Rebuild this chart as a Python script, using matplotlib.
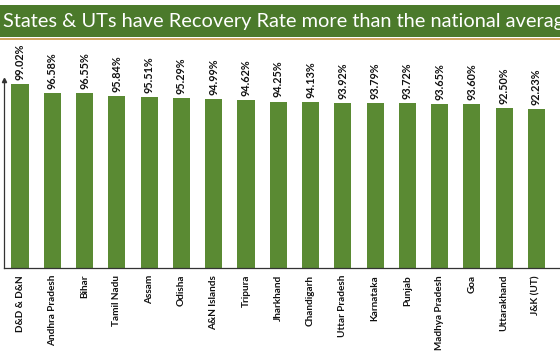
"""Recovery rate by State/UT - bar chart with green title banner."""
import matplotlib
matplotlib.use("Agg")
import matplotlib.patches as mpatches
import matplotlib.pyplot as plt

GREEN = "#5A8A33"
BANNER = "#4B7A2B"
GOLD = "#D2A862"

states = [
    "D&D & D&N", "Andhra Pradesh", "Bihar", "Tamil Nadu", "Assam", "Odisha",
    "A&N Islands", "Tripura", "Jharkhand", "Chandigarh", "Uttar Pradesh",
    "Karnataka", "Punjab", "Madhya Pradesh", "Goa", "Uttarakhand", "J&K (UT)",
]
recovery = [
    99.02, 96.58, 96.55, 95.84, 95.51, 95.29, 94.99, 94.62, 94.25, 94.13,
    93.92, 93.79, 93.72, 93.65, 93.60, 92.50, 92.23,
]
title = "States & UTs have Recovery Rate more than the national average"

fig = plt.figure(figsize=(5.6, 3.55), dpi=100)
fig.patch.set_facecolor("white")

# banner (title runs off the right edge, as in the source slide)
fig.add_artist(mpatches.Rectangle((0, 1 - 37 / 355), 1, 32 / 355, transform=fig.transFigure,
                                  facecolor=BANNER, edgecolor="none"))
fig.add_artist(mpatches.Rectangle((0, 1 - 40 / 355), 1, 2.5 / 355, transform=fig.transFigure,
                                  facecolor=GOLD, edgecolor="none"))
fig.text(3 / 560, 1 - 21 / 355, title, fontsize=14.4, color="white", family="Lato",
         va="center", ha="left")

ax = fig.add_axes([4 / 560, 1 - 268 / 355, 556 / 560, 188 / 355])
x = range(len(states))
bars = ax.bar(x, recovery, width=0.53, color=GREEN, zorder=2)
ax.set_ylim(49, 100.1)
ax.set_xlim(-0.496, 16.73)

for b, v in zip(bars, recovery):
    ax.annotate(f"{v:.2f}%", (b.get_x() + b.get_width() / 2, v), xytext=(0, 3),
                textcoords="offset points", rotation=90, ha="center", va="bottom",
                fontsize=7.8, fontweight="bold", family="Lato", color="#111111")

ax.set_xticks(list(x))
ax.set_xticklabels(states, rotation=90, fontsize=7.2, fontweight="bold", family="Lato",
                   color="#111111")
ax.tick_params(axis="x", length=0, pad=5)
ax.set_yticks([])
for s in ["top", "right"]:
    ax.spines[s].set_visible(False)
ax.spines["left"].set_color("#333333")
ax.spines["bottom"].set_color("#333333")
ax.spines["left"].set_linewidth(0.9)
ax.spines["bottom"].set_linewidth(0.9)
ax.plot([0], [1.0], marker="^", markersize=3, color="#333333", transform=ax.transAxes,
        clip_on=False)

fig.savefig("out.png", dpi=100)
